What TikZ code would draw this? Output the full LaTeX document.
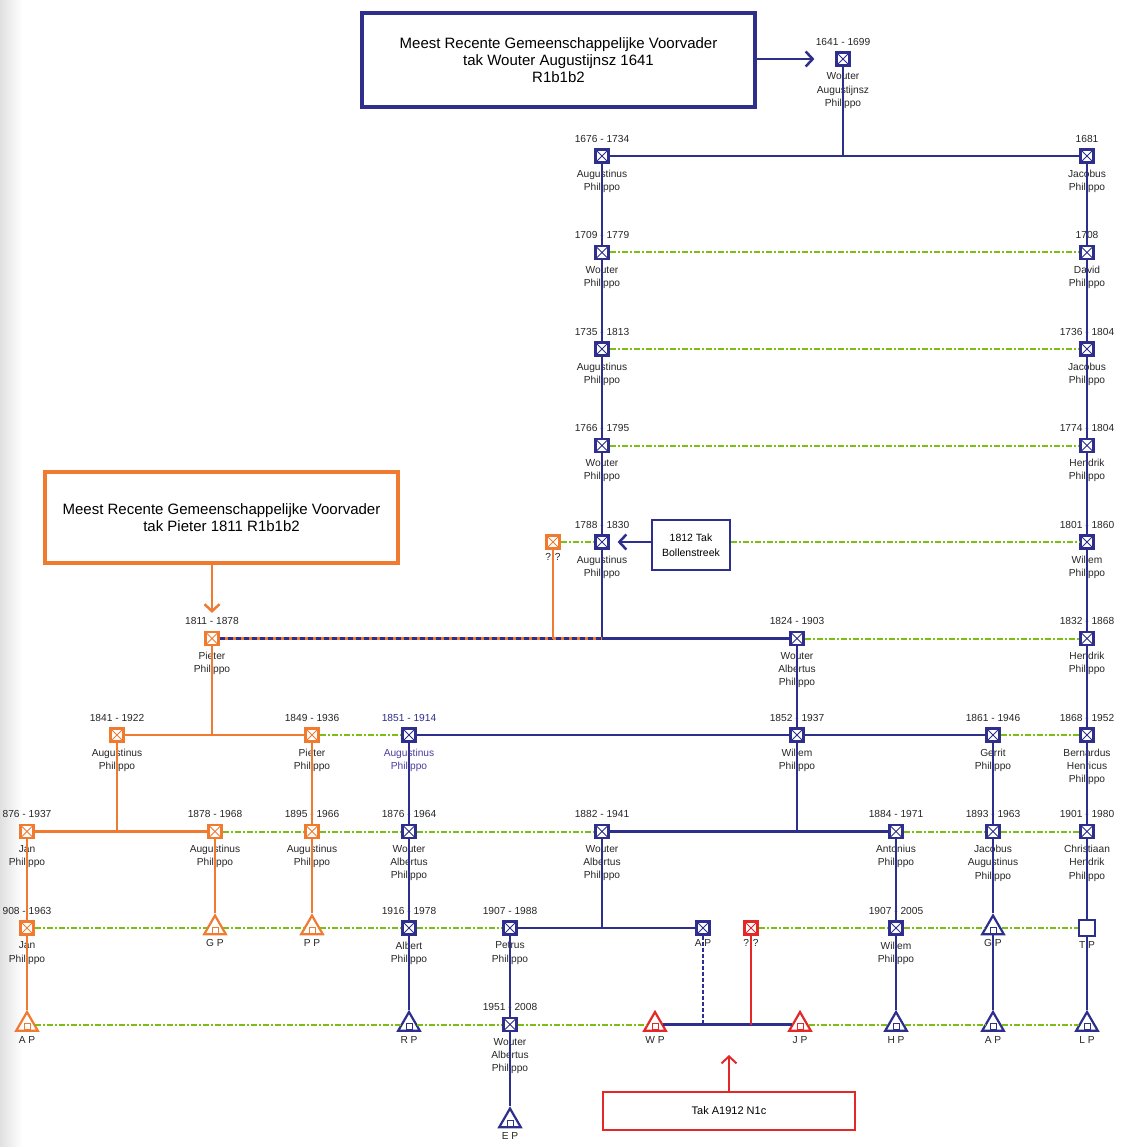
\documentclass[tikz,border=0pt]{standalone}
\usepackage{fontspec}
\setmainfont{Liberation Sans}
\usetikzlibrary{positioning,shapes.geometric,arrows.meta}
\definecolor{lineblue}{HTML}{2E2E8C}
\definecolor{lineorange}{HTML}{F07A30}
\definecolor{linered}{HTML}{E42828}
\definecolor{linegreen}{HTML}{7DBE14}
\definecolor{namepurple}{HTML}{4A3C9C}
\tikzset{
  pers/.style={draw=#1, line width=2.2pt, fill=white, minimum size=13pt, inner sep=0pt,
    path picture={\draw[#1, line width=1pt]
      (path picture bounding box.south west) -- (path picture bounding box.north east)
      (path picture bounding box.north west) -- (path picture bounding box.south east);}},
  pers/.default=lineblue,
  tri/.style={draw=#1, line width=2.2pt, fill=white, regular polygon, regular polygon sides=3,
    minimum size=25pt, inner sep=0pt,
    path picture={\draw[#1, line width=0.9pt]
      ([xshift=-3pt,yshift=1pt]path picture bounding box.south) rectangle
      ([xshift=3pt,yshift=7pt]path picture bounding box.south);}},
  tri/.default=lineblue,
  blank/.style={draw=lineblue, line width=2.2pt, fill=white, minimum size=16pt, inner sep=0pt},
  yrs/.style={label={above:#1}},
  nm/.style={label={[align=center]below:#1}},
  lbl/.style={label={[label distance=4pt]below:#1}},
  mrca/.style={draw=#1, line width=3.2pt, align=center, inner sep=0pt,
    font=\fontsize{15}{17}\selectfont},
  tak/.style={draw=#1, line width=2.4pt, align=center, inner sep=0pt,
    font=\fontsize{10.5}{15}\selectfont},
  bline/.style={draw=lineblue, line width=2.5pt},
  oline/.style={draw=lineorange, line width=2.5pt},
  rline/.style={draw=linered, line width=2pt},
  kin/.style={draw=linegreen, line width=2pt, dash pattern=on 6pt off 2pt on 2pt off 2pt},
  barb/.style={-{Straight Barb[length=7pt,width=15pt]}}
}
\begin{document}
\begin{tikzpicture}[x=1pt, y=-1pt, node distance=96.5pt,
  every label/.style={font=\fontsize{10.2}{13.2}\selectfont, inner sep=0pt, text=black!85},
  label distance=6pt]
  \useasboundingbox (0,0) rectangle (1120,1147);
  \shade[left color=black!12, right color=white] (0,0) rectangle (22,1147);

  % boxes
  \node[mrca=lineblue, minimum width=393pt, minimum height=94pt] (topbox) at (558.5,60)
    {Meest Recente Gemeenschappelijke Voorvader\\tak Wouter Augustijnsz 1641\\R1b1b2};
  \node[mrca=lineorange, minimum width=353pt, minimum height=91pt] (obox) at (221.5,517.5)
    {Meest Recente Gemeenschappelijke Voorvader\\tak Pieter 1811 R1b1b2};
  \node[tak=lineblue, minimum width=78pt, minimum height=50pt] (tak1812) at (691,545)
    {1812 Tak\\Bollenstreek};
  \node[tak=linered, minimum width=252pt, minimum height=38pt,
    font=\fontsize{11}{13}\selectfont] (takbox) at (729,1111) {Tak A1912 N1c};

  % blue line
  \node[pers, yrs={1641 - 1699}, nm={Wouter\\Augustijnsz\\Philippo}] (w1641) at (843,59) {};
  \node[pers, yrs={1676 - 1734}, nm={Augustinus\\Philippo}] (a1676) at (602,156) {};
  \node[pers, yrs={1709 - 1779}, nm={Wouter\\Philippo}] (w1709) [below of=a1676] {};
  \node[pers, yrs={1735 - 1813}, nm={Augustinus\\Philippo}] (a1735) [below of=w1709] {};
  \node[pers, yrs={1766 - 1795}, nm={Wouter\\Philippo}] (w1766) [below of=a1735] {};
  \node[pers, yrs={1788 - 1830}, nm={Augustinus\\Philippo}] (a1788) [below of=w1766] {};

  \node[pers, yrs={1681}, nm={Jacobus\\Philippo}] (j1681) at (1087,156) {};
  \node[pers, yrs={1708}, nm={David\\Philippo}] (d1708) [below of=j1681] {};
  \node[pers, yrs={1736 - 1804}, nm={Jacobus\\Philippo}] (j1736) [below of=d1708] {};
  \node[pers, yrs={1774 - 1804}, nm={Hendrik\\Philippo}] (h1774) [below of=j1736] {};
  \node[pers, yrs={1801 - 1860}, nm={Willem\\Philippo}] (w1801) [below of=h1774] {};
  \node[pers, yrs={1832 - 1868}, nm={Hendrik\\Philippo}] (h1832) [below of=w1801] {};
  \node[pers, yrs={1868 - 1952}, nm={Bernardus\\Henricus\\Philippo}] (b1868) [below of=h1832] {};
  \node[pers, yrs={1901 - 1980}, nm={Christiaan\\Hendrik\\Philippo}] (c1901) [below of=b1868] {};
  \node[blank, lbl={T P}] (tp) [below of=c1901] {};
  \node[tri, lbl={L P}] (lp) [below of=tp] {};

  \node[pers, yrs={1824 - 1903}, nm={Wouter\\Albertus\\Philippo}] (w1824) at (797,638.5) {};
  \node[pers, yrs={1852 - 1937}, nm={Willem\\Philippo}] (w1852) [below of=w1824] {};

  \node[pers, label={[text=lineblue]above:1851 - 1914},
    label={[align=center, text=namepurple]below:Augustinus\\Philippo}] (a1851) at (409,735) {};
  \node[pers, yrs={1876 - 1964}, nm={Wouter\\Albertus\\Philippo}] (w1876) [below of=a1851] {};
  \node[pers, yrs={1916 - 1978}, nm={Albert\\Philippo}] (a1916) [below of=w1876] {};
  \node[tri, lbl={R P}] (rp) [below of=a1916] {};

  \node[pers, yrs={1861 - 1946}, nm={Gerrit\\Philippo}] (g1861) at (993,735) {};
  \node[pers, yrs={1893 - 1963}, nm={Jacobus\\Augustinus\\Philippo}] (j1893) [below of=g1861] {};
  \node[tri, lbl={G P}] (gp2) [below of=j1893] {};
  \node[tri, lbl={A P}] (ap3) [below of=gp2] {};

  \node[pers, yrs={1882 - 1941}, nm={Wouter\\Albertus\\Philippo}] (w1882) at (602,831.5) {};
  \node[pers, yrs={1884 - 1971}, nm={Antonius\\Philippo}] (a1884) at (896,831.5) {};
  \node[pers, yrs={1907 - 2005}, nm={Willem\\Philippo}] (w1907) [below of=a1884] {};
  \node[tri, lbl={H P}] (hp) [below of=w1907] {};

  \node[pers, yrs={1907 - 1988}, nm={Petrus\\Philippo}] (p1907) at (510,928) {};
  \node[pers, yrs={1951 - 2008}, nm={Wouter\\Albertus\\Philippo}] (w1951) [below of=p1907] {};
  \node[tri, lbl={E P}] (ep) [below of=w1951] {};
  \node[pers, lbl={A P}] (ap) at (703,928) {};

  % red line
  \node[pers=linered, lbl={? ?}] (unk2) at (751,928) {};
  \node[tri=linered, lbl={W P}] (wp) at (655,1024.5) {};
  \node[tri=linered, lbl={J P}] (jp) at (800,1024.5) {};

  % orange line
  \node[pers=lineorange, lbl={? ?}] (unk1) at (553,542) {};
  \node[pers=lineorange, yrs={1811 - 1878}, nm={Pieter\\Philippo}] (p1811) at (212,638.5) {};
  \node[pers=lineorange, yrs={1841 - 1922}, nm={Augustinus\\Philippo}] (a1841) at (117,735) {};
  \node[pers=lineorange, yrs={1849 - 1936}, nm={Pieter\\Philippo}] (p1849) at (312,735) {};
  \node[pers=lineorange, yrs={1895 - 1966}, nm={Augustinus\\Philippo}] (a1895) [below of=p1849] {};
  \node[tri=lineorange, lbl={P P}] (pp) [below of=a1895] {};
  \node[pers=lineorange, yrs={876 - 1937}, nm={Jan\\Philippo}] (j1876) at (27,831.5) {};
  \node[pers=lineorange, yrs={908 - 1963}, nm={Jan\\Philippo}] (j1908) [below of=j1876] {};
  \node[tri=lineorange, lbl={A P}] (ap1) [below of=j1908] {};
  \node[pers=lineorange, yrs={1878 - 1968}, nm={Augustinus\\Philippo}] (a1878) at (215,831.5) {};
  \node[tri=lineorange, lbl={G P}] (gp1) [below of=a1878] {};

  \coordinate (jn1811) at (a1788 |- p1811);
  \coordinate (redtip) at (729,1055);

  % matching Y-DNA lines
  \draw[kin] (w1709) -- (d1708);
  \draw[kin] (a1735) -- (j1736);
  \draw[kin] (w1766) -- (h1774);
  \draw[kin] (unk1) -- (a1788);
  \draw[kin] (tak1812.east |- w1801) -- (w1801);
  \draw[kin] (w1824) -- (h1832);
  \draw[kin] (p1849) -- (a1851);
  \draw[kin] (g1861) -- (b1868);
  \draw[kin] (a1878) -- (a1895) -- (w1876) -- (w1882);
  \draw[kin] (a1884) -- (j1893) -- (c1901);
  \draw[kin] (j1908) -- (gp1) -- (pp) -- (a1916) -- (p1907);
  \draw[kin] (unk2) -- (w1907) -- (gp2) -- (tp);
  \draw[kin] (ap1) -- (rp) -- (w1951) -- (wp);
  \draw[kin] (jp) -- (hp) -- (ap3) -- (lp);

  % blue descent
  \draw[bline, barb, shorten >=21pt] (topbox.east |- w1641) -- (w1641);
  \draw[bline] (w1641) -- (w1641 |- a1676);
  \draw[bline] (a1676) -- (j1681);
  \draw[bline] (a1676) -- (w1709) -- (a1735) -- (w1766) -- (a1788) -- (jn1811);
  \draw[bline, barb, shorten >=8pt] (tak1812.west |- a1788) -- (a1788);
  \draw[bline] (j1681) -- (d1708) -- (j1736) -- (h1774) -- (w1801) -- (h1832)
    -- (b1868) -- (c1901) -- (tp) -- (lp);
  \draw[oline] (p1811) -- (jn1811);
  \draw[bline, dash pattern=on 5pt off 3pt] (p1811) -- (jn1811);
  \draw[bline] (jn1811) -- (w1824);
  \draw[bline] (w1824) -- (w1852);
  \draw[bline] (a1851) -- (w1852) -- (g1861);
  \draw[bline] (w1852) -- (w1852 |- w1882);
  \draw[bline] (w1882) -- (a1884);
  \draw[bline] (a1851) -- (w1876) -- (a1916) -- (rp);
  \draw[bline] (g1861) -- (j1893) -- (gp2) -- (ap3);
  \draw[bline] (a1884) -- (w1907) -- (hp);
  \draw[bline] (w1882) -- (w1882 |- p1907);
  \draw[bline] (p1907) -- (ap);
  \draw[bline] (p1907) -- (w1951) -- (ep);
  \draw[bline, dash pattern=on 4pt off 2pt] (ap) -- (ap |- wp);
  \draw[bline] (wp) -- (jp);

  % red descent
  \draw[rline] (unk2) -- (unk2 |- wp);
  \draw[rline, barb] (takbox.north) -- (redtip);

  % orange descent
  \draw[oline, barb, shorten >=18pt] (obox.south -| p1811) -- (p1811);
  \draw[oline] (unk1) -- (unk1 |- jn1811);
  \draw[oline] (p1811) -- (p1811 |- a1841);
  \draw[oline] (a1841) -- (p1849);
  \draw[oline] (a1841) -- (a1841 |- j1876);
  \draw[oline] (j1876) -- (a1878);
  \draw[oline] (a1878) -- (gp1);
  \draw[oline] (p1849) -- (a1895) -- (pp);
  \draw[oline] (j1876) -- (j1908) -- (ap1);
\end{tikzpicture}
\end{document}
